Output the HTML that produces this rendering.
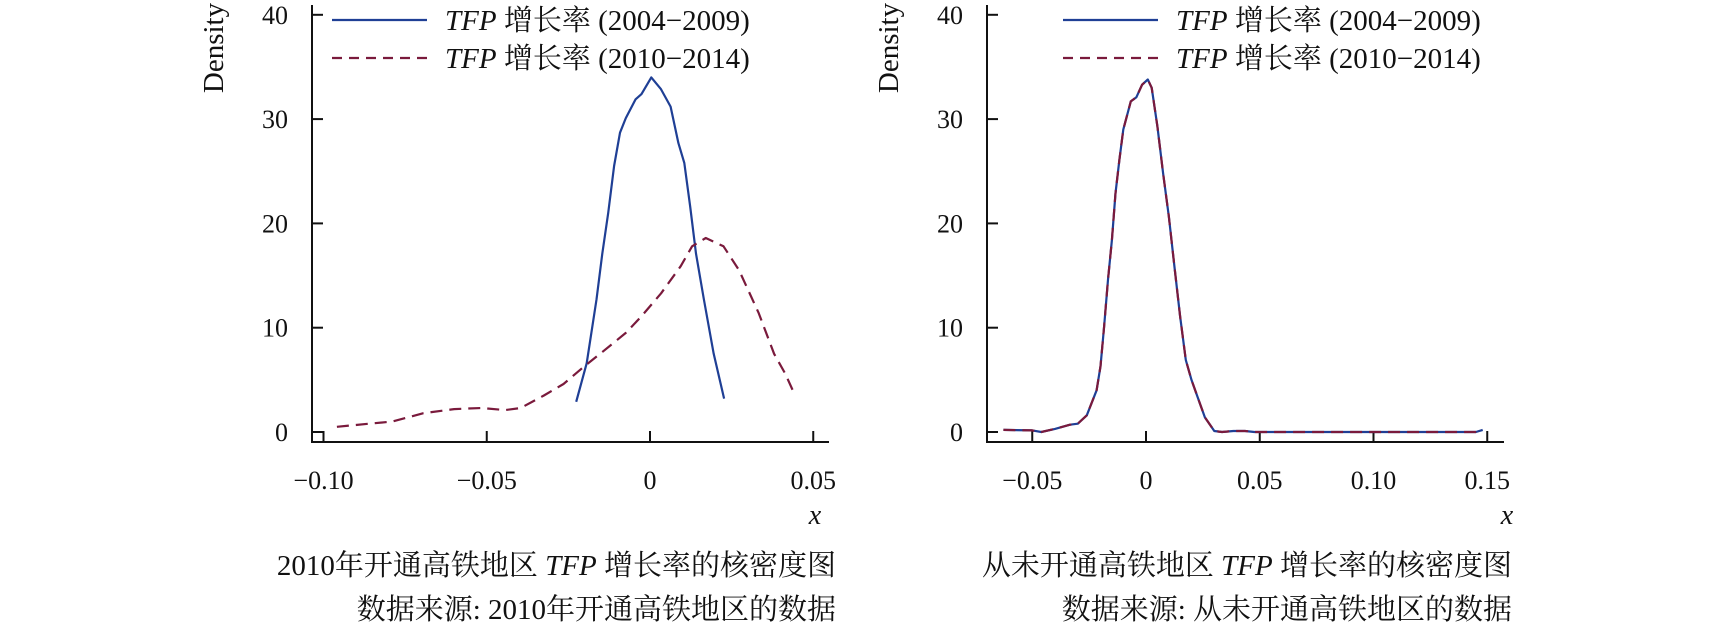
<!DOCTYPE html>
<html><head><meta charset="utf-8">
<style>
body{margin:0;background:#fff;width:1713px;height:627px;overflow:hidden}
svg text{font-family:"Liberation Serif","Noto Serif CJK SC",serif;fill:#111}
</style></head>
<body>
<svg id="chart" width="1713" height="627" viewBox="0 0 1713 627" xmlns="http://www.w3.org/2000/svg"></svg>
<script>
const yTicks=[0,10,20,30,40];
const leftXTicks=[-0.10,-0.05,0,0.05];
const leftXTickLabels=["\u22120.10","\u22120.05","0","0.05"];
const rightXTicks=[-0.05,0,0.05,0.10,0.15];
const rightXTickLabels=["\u22120.05","0","0.05","0.10","0.15"];
const legendLabels=["(2004\u22122009)","(2010\u22122014)"];
const leftBlueX=[-0.0226,-0.0194,-0.0164,-0.0146,-0.0128,-0.011,-0.0092,-0.0074,-0.0044,-0.0026,0.0004,0.0033,0.0063,0.0087,0.0105,0.0123,0.0141,0.0165,0.0195,0.0227];
const leftBlueY=[2.9,6.6,12.7,17.1,21,25.5,28.7,30.1,31.9,32.4,34,32.9,31.2,27.7,25.8,21.6,17.1,12.7,7.5,3.2];
const leftRedX=[-0.0959,-0.0861,-0.079,-0.0694,-0.06,-0.0516,-0.0444,-0.0396,-0.0325,-0.0265,-0.0205,-0.0145,-0.0074,-0.0026,0.0034,0.0094,0.0129,0.0171,0.0225,0.0273,0.0333,0.038,0.0414,0.044];
const leftRedY=[0.5,0.8,1.0,1.8,2.2,2.3,2.1,2.3,3.5,4.6,6.2,7.7,9.5,11.1,13.3,15.9,17.8,18.6,17.8,15.5,11.4,7.5,5.6,3.8];
const rightX=[-0.0627,-0.05,-0.046,-0.040,-0.0334,-0.030,-0.026,-0.0217,-0.020,-0.0184,-0.0167,-0.015,-0.0134,-0.0117,-0.010,-0.0067,-0.0042,-0.0017,0.0008,0.0025,0.005,0.0075,0.010,0.0125,0.015,0.0175,0.020,0.0226,0.0259,0.030,0.0334,0.0384,0.0435,0.0476,0.10,0.145,0.148];
const rightY=[0.2,0.15,0,0.3,0.7,0.8,1.6,4.0,6.3,10.1,14.6,18.4,22.9,26.1,29,31.7,32.1,33.3,33.8,33,29.3,24.8,20.7,15.9,11.1,6.9,5,3.4,1.4,0.1,0,0.1,0.1,0,0,0,0.2];

const NS="http://www.w3.org/2000/svg";
const svg=document.getElementById('chart');
function mk(tag,attrs,parent){const e=document.createElementNS(NS,tag);for(const k in attrs)e.setAttribute(k,attrs[k]);(parent||svg).appendChild(e);return e;}
const blue="#1f3f95", red="#7a1a3c";

function panel(p){
  const g=mk('g',{});
  
  
  const sx=v=>p.x0+v*p.kx, sy=v=>432-v*10.43;
  const ax=mk('path',{d:`M${p.ax},5 V442 H${p.axEnd}`,stroke:'#111','stroke-width':2,fill:'none'},g);
   
  yTicks.forEach(t=>{
    const l=mk('line',{x1:p.ax,x2:p.ax+11,y1:sy(t),y2:sy(t),stroke:'#111','stroke-width':2},g);
     
    const tx=mk('text',{x:p.ax-24,y:sy(t)+9,'text-anchor':'end','font-size':26},g);
    tx.textContent=t;
     
  });
  p.xt.forEach((t,i)=>{
    const l=mk('line',{x1:sx(t),x2:sx(t),y1:442,y2:431,stroke:'#111','stroke-width':2},g);
     
    const tx=mk('text',{x:sx(t),y:489,'text-anchor':'middle','font-size':26},g);
    tx.textContent=p.xl[i];
     
  });
  const xt=mk('text',{x:p.xLab,y:524,'text-anchor':'middle','font-size':28,'font-style':'italic'},g);
  xt.textContent='x';  
  const yt=mk('text',{x:0,y:0,'text-anchor':'middle','font-size':29,transform:`translate(${p.dens},48) rotate(-90)`},g);
  yt.textContent='Density';  
  p.series.forEach(s=>{
    const d=s.x.map((v,i)=>(i?'L':'M')+sx(v).toFixed(1)+','+sy(s.y[i]).toFixed(1)).join(' ');
    const pa=mk('path',{d,stroke:s.c,'stroke-width':2.2,fill:'none','stroke-dasharray':s.dash||'none','stroke-linejoin':'round'},g);
     
  });
  legendLabels.forEach((lab,i)=>{
    const y=20+i*38;
    const lg=mk('g',{},g);
     
    mk('line',{x1:p.lx,x2:p.lx+95,y1:y,y2:y,stroke:i?red:blue,'stroke-width':2.2,'stroke-dasharray':i?'10,7':'none'},lg);
    const t=mk('text',{x:p.lx+113,y:y+10,'font-size':29},lg);
    t.innerHTML='<tspan font-style="italic">TFP</tspan> 增长率 '+lab;
  });
  p.cap.forEach((c,i)=>{
    const t=mk('text',{x:p.capR,y:i?619:575,'text-anchor':'end','font-size':29},g);
    t.innerHTML=c;
     
  });
}
panel({name:'left-panel',x0:650,kx:3265,ax:312,axEnd:829,xt:leftXTicks,xl:leftXTickLabels,xLab:815,dens:223,lx:332,capR:836,
  series:[{x:leftBlueX,y:leftBlueY,c:blue,name:'series-2004-2009'},{x:leftRedX,y:leftRedY,c:red,dash:'12,7',name:'series-2010-2014'}],
  cap:['2010年开通高铁地区 <tspan font-style="italic">TFP</tspan> 增长率的核密度图','数据来源: 2010年开通高铁地区的数据']});
panel({name:'right-panel',x0:1146,kx:2275,ax:987,axEnd:1504,xt:rightXTicks,xl:rightXTickLabels,xLab:1507,dens:898,lx:1063,capR:1512,
  series:[{x:rightX,y:rightY,c:blue,name:'series-2004-2009'},{x:rightX,y:rightY,c:red,dash:'12,7',name:'series-2010-2014'}],
  cap:['从未开通高铁地区 <tspan font-style="italic">TFP</tspan> 增长率的核密度图','数据来源: 从未开通高铁地区的数据']});
</script>
</body></html>
